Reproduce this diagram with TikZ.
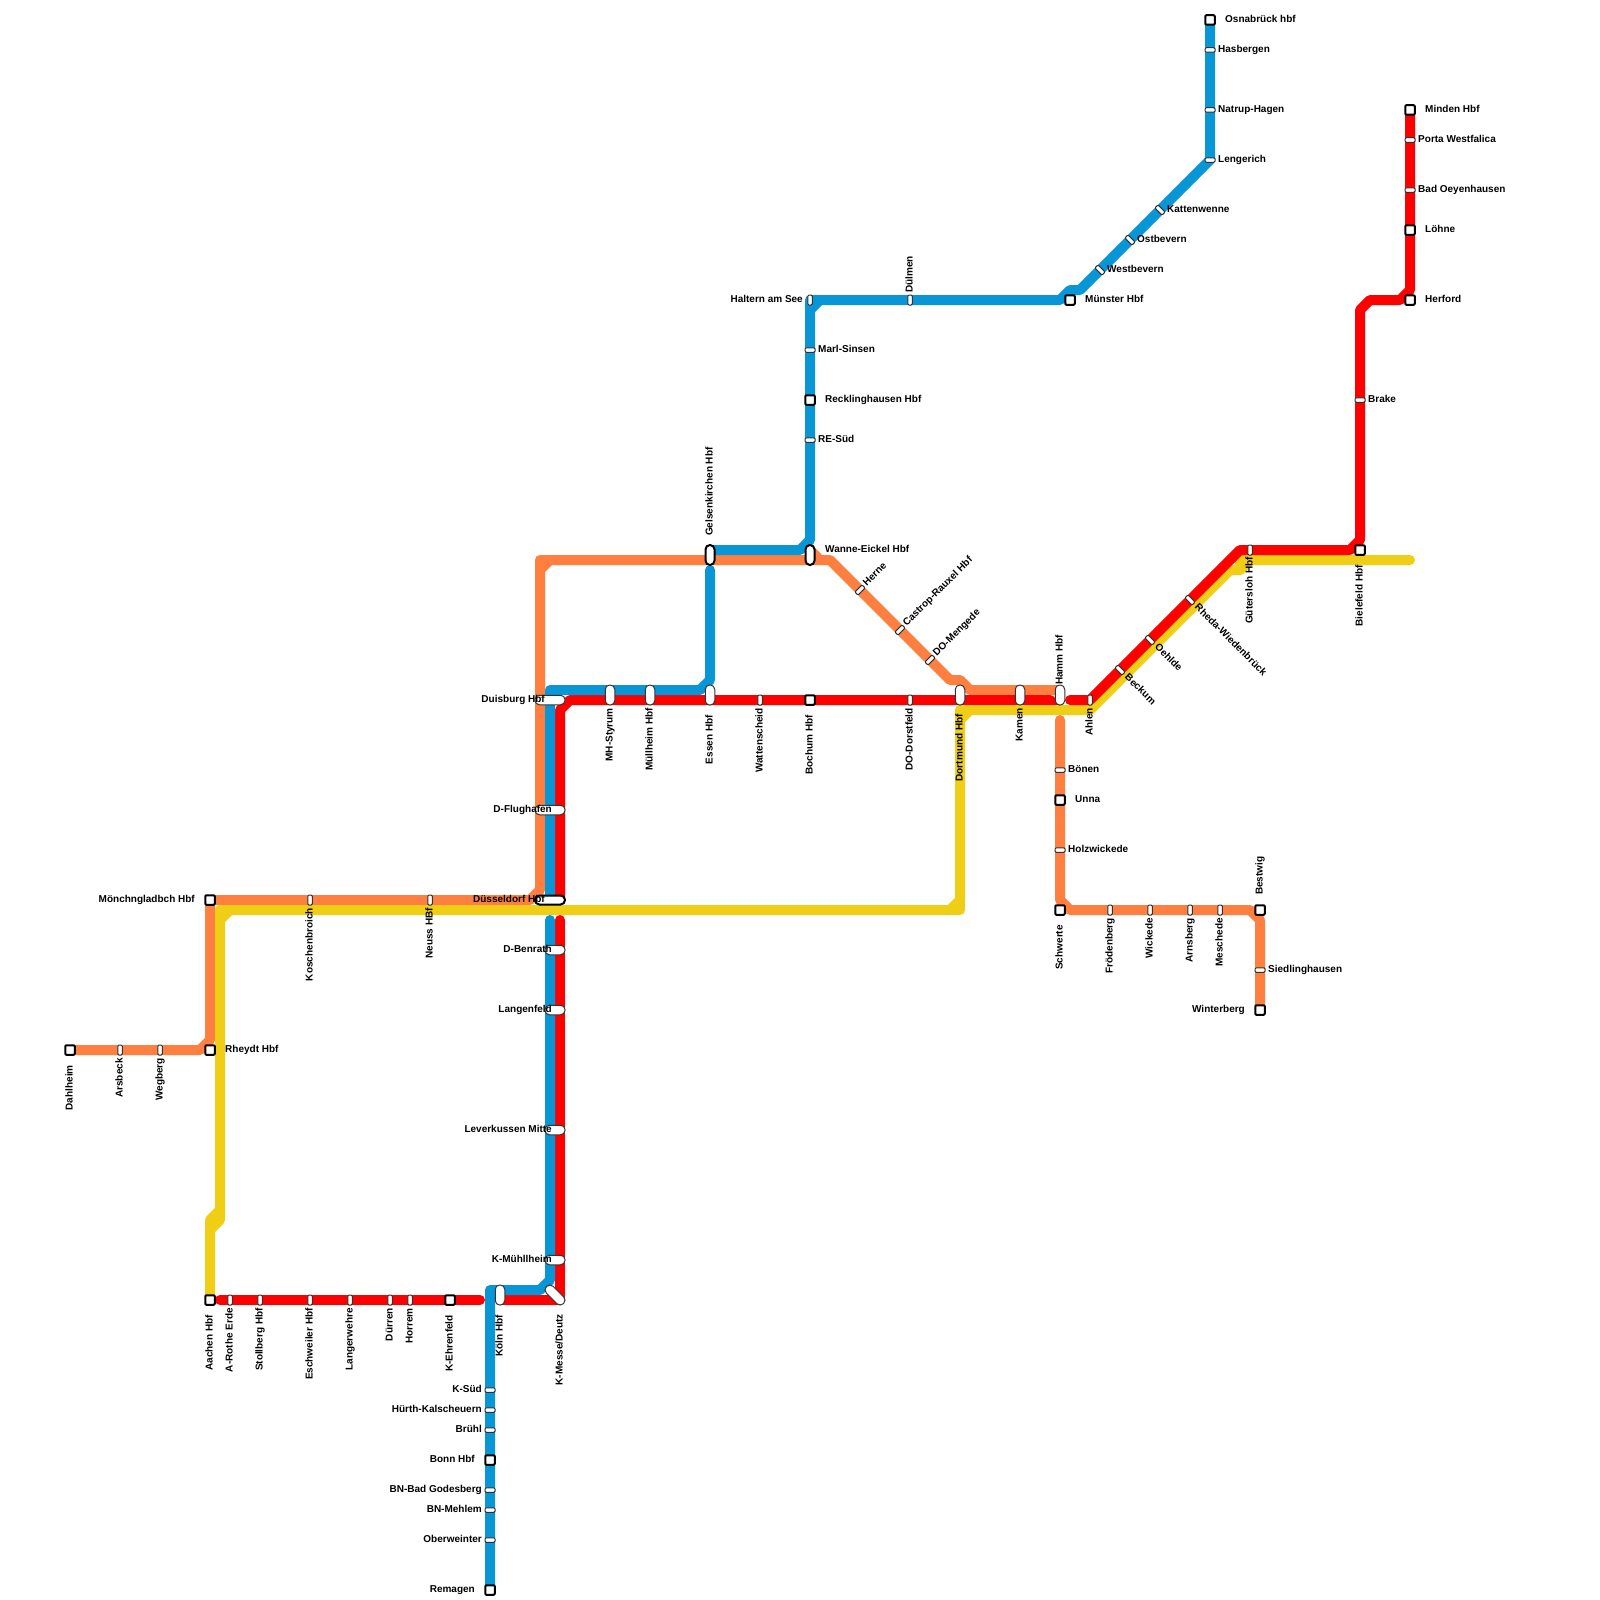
\documentclass[tikz,border=0pt]{standalone}
\usepackage{fontspec}
\setmainfont{Liberation Sans}
\usetikzlibrary{backgrounds,positioning}
\definecolor{mOrange}{HTML}{FF7F41}
\definecolor{mYellow}{HTML}{F0CE15}
\definecolor{mRed}{HTML}{FF0000}
\definecolor{mBlue}{HTML}{0896D7}
\definecolor{mEdge}{HTML}{333333}

\begin{document}
\begin{tikzpicture}[
    x=1pt, y=-1pt,
    metro/.style={line width=10pt, line cap=round, line join=round},
    sq/.style={draw=black, line width=2pt, fill=white, rounded corners=1pt, inner sep=0pt, minimum size=9.5pt},
    tick/.style={draw=mEdge, line width=1pt, fill=white, rounded corners=1.2pt, inner sep=0pt, minimum width=4.5pt, minimum height=10pt},
    pill/.style={draw=mEdge, line width=1pt, fill=white, rounded corners=4.4pt, inner sep=0pt, minimum width=#1, minimum height=9.5pt},
    hub/.style={pill=#1, draw=black, line width=2pt, minimum height=9pt},
    lab/.style={font=\bfseries\fontsize{10}{12}\selectfont, inner sep=0pt, text height=7.2pt, text depth=2.2pt},
    ld/.style={lab, rotate=90, anchor=east},
    lu/.style={lab, rotate=90, anchor=west},
    lup/.style={lab, rotate=45, anchor=west},
    ldn/.style={lab, rotate=-45, anchor=west}
]
\useasboundingbox (0,0) rectangle (1600,1600);
% bends
\coordinate (o1) at (200,1050);
\coordinate (o2) at (210,1040);
\coordinate (o3) at (530,900);
\coordinate (o4) at (540,890);
\coordinate (o5) at (540,570);
\coordinate (o5b) at (540,560);
\coordinate (o6) at (550,560);
\coordinate (o7) at (830,560);
\coordinate (o8) at (950,680);
\coordinate (o9) at (960,680);
\coordinate (o10) at (970,690);
\coordinate (o11) at (1060,690);
\coordinate (o12) at (810,550);
\coordinate (o13) at (820,560);
\coordinate (o14) at (1060,720);
\coordinate (o15) at (1060,900);
\coordinate (o16) at (1070,910);
\coordinate (o17) at (1250,910);
\coordinate (o18) at (1260,920);
\coordinate (y1) at (210,1220);
\coordinate (y2) at (220,1210);
\coordinate (y3) at (220,920);
\coordinate (y3b) at (220,910);
\coordinate (y4) at (230,910);
\coordinate (y5) at (950,910);
\coordinate (y5b) at (960,910);
\coordinate (y6) at (960,900);
\coordinate (y7) at (960,720);
\coordinate (y7b) at (960,710);
\coordinate (y8) at (970,710);
\coordinate (y9) at (1090,710);
\coordinate (y10) at (1230,570);
\coordinate (y11) at (1240,570);
\coordinate (y11b) at (1240,560);
\coordinate (y12) at (1250,560);
\coordinate (y13) at (1410,560);
\coordinate (y14) at (210,1230);
\coordinate (y15) at (220,1220);
\coordinate (r1) at (220,1300);
\coordinate (r2) at (480,1300);
\coordinate (r3) at (500,1300);
\coordinate (r4) at (560,1300);
\coordinate (r5) at (560,920);
\coordinate (r6) at (560,900);
\coordinate (r7) at (560,710);
\coordinate (r8) at (570,700);
\coordinate (r9) at (1050,700);
\coordinate (r10) at (1056,706);
\coordinate (r11) at (1070,700);
\coordinate (r12) at (1240,550);
\coordinate (r13) at (1350,550);
\coordinate (r14) at (1360,540);
\coordinate (r15) at (1360,310);
\coordinate (r16) at (1370,300);
\coordinate (r17) at (1400,300);
\coordinate (r18) at (1410,290);
\coordinate (b1) at (550,920);
\coordinate (b2) at (550,1280);
\coordinate (b3) at (540,1290);
\coordinate (b4) at (490,1290);
\coordinate (b5) at (550,900);
\coordinate (b6) at (550,690);
\coordinate (b7) at (700,690);
\coordinate (b8) at (710,680);
\coordinate (b9) at (710,570);
\coordinate (b10) at (710,550);
\coordinate (b11) at (800,550);
\coordinate (b12) at (810,540);
\coordinate (b13) at (810,310);
\coordinate (b13b) at (810,300);
\coordinate (b14) at (820,300);
\coordinate (b15) at (1060,300);
\coordinate (b16) at (1070,290);
\coordinate (b17) at (1080,290);
% stations
\node[sq] (dahlheim) at (70,1050) {};
\node[tick] (arsbeck) at (120,1050) {};
\node[tick] (wegberg) at (160,1050) {};
\node[sq] (rheydt) at (210,1050) {};
\node[sq] (mgb) at (210,900) {};
\node[tick] (kosch) at (310,900) {};
\node[tick] (neuss) at (430,900) {};
\node[hub=30pt] (dus) at (550,900) {};
\node[pill=30pt] (duisburg) at (550,700) {};
\node[pill=30pt] (dflug) at (550,810) {};
\node[pill=20pt] (dbenrath) at (555,950) {};
\node[pill=20pt] (langenfeld) at (555,1010) {};
\node[pill=20pt] (leverkusen) at (555,1130) {};
\node[pill=20pt] (kmuehl) at (555,1260) {};
\node[pill=24pt, rotate=-45] (kmesse) at (555,1295) {};
\node[pill=20pt, rotate=90] (koeln) at (500,1295) {};
\node[sq] (kehren) at (450,1300) {};
\node[tick] (horrem) at (410,1300) {};
\node[tick] (dueren) at (390,1300) {};
\node[tick] (langerwehre) at (350,1300) {};
\node[tick] (eschweiler) at (310,1300) {};
\node[tick] (stollberg) at (260,1300) {};
\node[tick] (rothe) at (230,1300) {};
\node[sq] (aachen) at (210,1300) {};
\node[tick, rotate=90] (ksued) at (490,1390) {};
\node[tick, rotate=90] (huerth) at (490,1410) {};
\node[tick, rotate=90] (bruehl) at (490,1430) {};
\node[sq] (bonn) at (490,1460) {};
\node[tick, rotate=90] (godesberg) at (490,1490) {};
\node[tick, rotate=90] (mehlem) at (490,1510) {};
\node[tick, rotate=90] (oberw) at (490,1540) {};
\node[sq] (remagen) at (490,1590) {};
\node[pill=20pt, rotate=90] (styrum) at (610,695) {};
\node[pill=20pt, rotate=90] (muell) at (650,695) {};
\node[pill=20pt, rotate=90] (essen) at (710,695) {};
\node[hub=20pt, rotate=90] (gelsen) at (710,555) {};
\node[hub=20pt, rotate=90] (wanne) at (810,555) {};
\node[tick] (watten) at (760,700) {};
\node[sq] (bochum) at (810,700) {};
\node[tick] (dorst) at (910,700) {};
\node[pill=20pt, rotate=90] (dortmund) at (960,695) {};
\node[pill=20pt, rotate=90] (kamen) at (1020,695) {};
\node[pill=20pt, rotate=90] (hamm) at (1060,695) {};
\node[tick] (ahlen) at (1090,700) {};
\node[tick, rotate=45] (beckum) at (1120,670) {};
\node[tick, rotate=45] (oelde) at (1150,640) {};
\node[tick, rotate=45] (rheda) at (1190,600) {};
\node[tick] (guetersloh) at (1250,550) {};
\node[sq] (bielefeld) at (1360,550) {};
\node[tick, rotate=90] (brake) at (1360,400) {};
\node[sq] (herford) at (1410,300) {};
\node[sq] (loehne) at (1410,230) {};
\node[tick, rotate=90] (oeyn) at (1410,190) {};
\node[tick, rotate=90] (porta) at (1410,140) {};
\node[sq] (minden) at (1410,110) {};
\node[sq] (osna) at (1210,20) {};
\node[tick, rotate=90] (hasbergen) at (1210,50) {};
\node[tick, rotate=90] (natrup) at (1210,110) {};
\node[tick, rotate=90] (lengerich) at (1210,160) {};
\node[tick, rotate=45] (kattenw) at (1160,210) {};
\node[tick, rotate=45] (ostbev) at (1130,240) {};
\node[tick, rotate=45] (westbev) at (1100,270) {};
\node[sq] (muenster) at (1070,300) {};
\node[tick] (duelmen) at (910,300) {};
\node[tick] (haltern) at (810,300) {};
\node[tick, rotate=90] (marl) at (810,350) {};
\node[sq] (reckl) at (810,400) {};
\node[tick, rotate=90] (resued) at (810,440) {};
\node[tick, rotate=-45] (herne) at (860,590) {};
\node[tick, rotate=-45] (castrop) at (900,630) {};
\node[tick, rotate=-45] (mengede) at (930,660) {};
\node[tick, rotate=90] (boenen) at (1060,770) {};
\node[sq] (unna) at (1060,800) {};
\node[tick, rotate=90] (holzw) at (1060,850) {};
\node[sq] (schwerte) at (1060,910) {};
\node[tick] (froeden) at (1110,910) {};
\node[tick] (wickede) at (1150,910) {};
\node[tick] (arnsberg) at (1190,910) {};
\node[tick] (meschede) at (1220,910) {};
\node[sq] (bestwig) at (1260,910) {};
\node[tick, rotate=90] (siedl) at (1260,970) {};
\node[sq] (winterberg) at (1260,1010) {};
% lines
\begin{scope}[on background layer]
\draw[metro, mOrange] (dahlheim.center) -- (o1) -- (o2) -- (mgb.center) -- (o3) -- (o4) -- (o5) -- (o6) -- (o7) -- (o8) -- (o9) -- (o10) -- (o11);
\draw[metro, mOrange] (o5) -- (o5b) -- (o6);
\draw[metro, mOrange] (o12) -- (o13);
\draw[metro, mOrange] (o14) -- (o15) -- (o16) -- (o17) -- (o18) -- (winterberg.center);
\draw[metro, mRed] (r6) -- (r7) -- (r8) -- (r9) -- (r10);
\draw[metro, mYellow] (aachen.center) -- (y1) -- (y2) -- (y3) -- (y4) -- (y5) -- (y6) -- (y7) -- (y8) -- (y9) -- (y10) -- (y11) -- (y12) -- (y13);
\draw[metro, mYellow] (y14) -- (y15) -- (y2);
\draw[metro, mYellow] (y3) -- (y3b) -- (y4);
\draw[metro, mYellow] (y5) -- (y5b) -- (y6);
\draw[metro, mYellow] (y7) -- (y7b) -- (y8);
\draw[metro, mYellow] (y11) -- (y11b) -- (y12);
\draw[metro, mRed] (r1) -- (r2);
\draw[metro, mRed] (r3) -- (r4) -- (r5);
\draw[metro, mRed] (r11) -- (ahlen.center) -- (r12) -- (r13) -- (r14) -- (r15) -- (r16) -- (r17) -- (r18) -- (minden.center);
\draw[metro, mBlue] (b1) -- (b2) -- (b3) -- (b4) -- (remagen.center);
\draw[metro, mBlue] (b5) -- (b6) -- (b7) -- (b8) -- (b9);
\draw[metro, mBlue] (b10) -- (b11) -- (b12) -- (b13) -- (b14) -- (b15) -- (b16) -- (b17) -- (lengerich.center) -- (osna.center);
\draw[metro, mBlue] (b13) -- (b13b) -- (b14);
\end{scope}
% labels
\node[below=15pt of dahlheim.center, ld] (l-dahlheim) {Dahlheim};
\node[below=8pt of arsbeck.center, ld] (l-arsbeck) {Arsbeck};
\node[below=8pt of wegberg.center, ld] (l-wegberg) {Wegberg};
\node[lab, right=15pt of rheydt.center] (l-rheydt) {Rheydt Hbf};
\node[lab, left=15pt of mgb.center] (l-mgb) {Mönchngladbch Hbf};
\node[below=8pt of kosch.center, ld] (l-kosch) {Koschenbroich};
\node[below=8pt of neuss.center, ld] (l-neuss) {Neuss HBf};
\node[lab, left=5pt of dus.center] (l-dus) {Düsseldorf Hbf};
\node[lab, left=5pt of duisburg.center] (l-duisburg) {Duisburg Hbf};
\node[lab, left=-2pt of dflug.center] (l-dflug) {D-Flughafen};
\node[lab, left=3pt of dbenrath.center] (l-dbenrath) {D-Benrath};
\node[lab, left=3pt of langenfeld.center] (l-langenfeld) {Langenfeld};
\node[lab, left=3pt of leverkusen.center] (l-leverkusen) {Leverkussen Mitte};
\node[lab, left=3pt of kmuehl.center] (l-kmuehl) {K-Mühllheim};
\node[below=19pt of kmesse.center, xshift=5pt, ld] (l-kmesse) {K-Messe/Deutz};
\node[below=20pt of koeln.center, ld] (l-koeln) {Köln Hbf};
\node[below=15pt of kehren.center, ld] (l-kehren) {K-Ehrenfeld};
\node[below=8pt of horrem.center, ld] (l-horrem) {Horrem};
\node[below=8pt of dueren.center, ld] (l-dueren) {Dürren};
\node[below=8pt of langerwehre.center, ld] (l-langerwehre) {Langerwehre};
\node[below=8pt of eschweiler.center, ld] (l-eschweiler) {Eschweiler Hbf};
\node[below=8pt of stollberg.center, ld] (l-stollberg) {Stollberg Hbf};
\node[below=8pt of rothe.center, ld] (l-rothe) {A-Rothe Erde};
\node[below=15pt of aachen.center, ld] (l-aachen) {Aachen Hbf};
\node[lab, left=8pt of ksued.center] (l-ksued) {K-Süd};
\node[lab, left=8pt of huerth.center] (l-huerth) {Hürth-Kalscheuern};
\node[lab, left=8pt of bruehl.center] (l-bruehl) {Brühl};
\node[lab, left=15pt of bonn.center] (l-bonn) {Bonn Hbf};
\node[lab, left=8pt of godesberg.center] (l-godesberg) {BN-Bad Godesberg};
\node[lab, left=8pt of mehlem.center] (l-mehlem) {BN-Mehlem};
\node[lab, left=8pt of oberw.center] (l-oberw) {Oberweinter};
\node[lab, left=15pt of remagen.center] (l-remagen) {Remagen};
\node[below=13pt of styrum.center, ld] (l-styrum) {MH-Styrum};
\node[below=13pt of muell.center, ld] (l-muell) {Müllheim Hbf};
\node[below=20pt of essen.center, ld] (l-essen) {Essen Hbf};
\node[above=19pt of gelsen.center, lu] (l-gelsen) {Gelsenkirchen Hbf};
\node[lab, right=15pt of wanne.center, yshift=5pt] (l-wanne) {Wanne-Eickel Hbf};
\node[below=8pt of watten.center, ld] (l-watten) {Wattenscheid};
\node[below=15pt of bochum.center, ld] (l-bochum) {Bochum Hbf};
\node[below=8pt of dorst.center, ld] (l-dorst) {DO-Dorstfeld};
\node[below=19pt of dortmund.center, ld] (l-dortmund) {Dortmund Hbf};
\node[below=13pt of kamen.center, ld] (l-kamen) {Kamen};
\node[above=10pt of hamm.center, lu] (l-hamm) {Hamm Hbf};
\node[below=8pt of ahlen.center, ld] (l-ahlen) {Ahlen};
\node[below right=6pt and 6pt of beckum.center, ldn] (l-beckum) {Beckum};
\node[below right=6pt and 6pt of oelde.center, ldn] (l-oelde) {Oehlde};
\node[below right=6pt and 6pt of rheda.center, ldn] (l-rheda) {Rheda-Wiedenbrück};
\node[below=7pt of guetersloh.center, ld] (l-guetersloh) {Gütersloh Hbf};
\node[below=15pt of bielefeld.center, ld] (l-bielefeld) {Bielefeld Hbf};
\node[lab, right=8pt of brake.center] (l-brake) {Brake};
\node[lab, right=15pt of herford.center] (l-herford) {Herford};
\node[lab, right=15pt of loehne.center] (l-loehne) {Löhne};
\node[lab, right=8pt of oeyn.center] (l-oeyn) {Bad Oeyenhausen};
\node[lab, right=8pt of porta.center] (l-porta) {Porta Westfalica};
\node[lab, right=15pt of minden.center] (l-minden) {Minden Hbf};
\node[lab, right=15pt of osna.center] (l-osna) {Osnabrück hbf};
\node[lab, right=8pt of hasbergen.center] (l-hasbergen) {Hasbergen};
\node[lab, right=8pt of natrup.center] (l-natrup) {Natrup-Hagen};
\node[lab, right=8pt of lengerich.center] (l-lengerich) {Lengerich};
\node[lab, right=7pt of kattenw.center] (l-kattenw) {Kattenwenne};
\node[lab, right=7pt of ostbev.center] (l-ostbev) {Ostbevern};
\node[lab, right=7pt of westbev.center] (l-westbev) {Westbevern};
\node[lab, right=15pt of muenster.center] (l-muenster) {Münster Hbf};
\node[above=7pt of duelmen.center, lu] (l-duelmen) {Dülmen};
\node[lab, left=7pt of haltern.center] (l-haltern) {Haltern am See};
\node[lab, right=8pt of marl.center] (l-marl) {Marl-Sinsen};
\node[lab, right=15pt of reckl.center] (l-reckl) {Recklinghausen Hbf};
\node[lab, right=8pt of resued.center] (l-resued) {RE-Süd};
\node[above right=5pt and 5pt of herne.center, lup] (l-herne) {Herne};
\node[above right=5pt and 5pt of castrop.center, lup] (l-castrop) {Castrop-Rauxel Hbf};
\node[above right=5pt and 5pt of mengede.center, lup] (l-mengede) {DO-Mengede};
\node[lab, right=8pt of boenen.center] (l-boenen) {Bönen};
\node[lab, right=15pt of unna.center] (l-unna) {Unna};
\node[lab, right=8pt of holzw.center] (l-holzw) {Holzwickede};
\node[below=15pt of schwerte.center, ld] (l-schwerte) {Schwerte};
\node[below=8pt of froeden.center, ld] (l-froeden) {Frödenberg};
\node[below=8pt of wickede.center, ld] (l-wickede) {Wickede};
\node[below=8pt of arnsberg.center, ld] (l-arnsberg) {Arnsberg};
\node[below=8pt of meschede.center, ld] (l-meschede) {Meschede};
\node[above=15pt of bestwig.center, lu] (l-bestwig) {Bestwig};
\node[lab, right=8pt of siedl.center] (l-siedl) {Siedlinghausen};
\node[lab, left=15pt of winterberg.center] (l-winterberg) {Winterberg};
\end{tikzpicture}
\end{document}
